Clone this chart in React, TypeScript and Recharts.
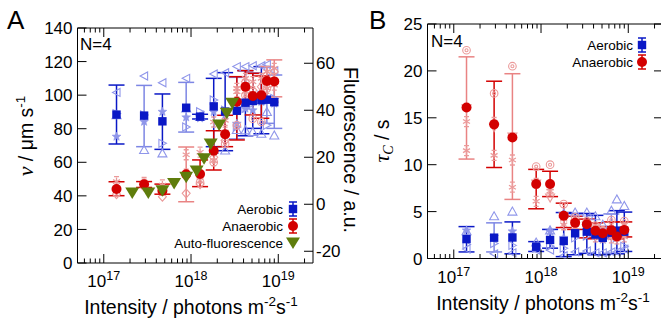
import React from 'react';
import { ComposedChart, Scatter, XAxis, YAxis, ErrorBar } from 'recharts';

// ---------------- data ----------------
const intensity = [1.4e17, 2.9e17, 4.7e17, 8.8e17, 1.27e18, 1.82e18, 2.46e18, 3.35e18, 4.2e18, 5.1e18, 6.4e18, 7.4e18, 9.0e18];

// Panel A: velocity (um/s)
const aeroV = [88.4, 87.8, 84.4, 92.5, 87.2, 93.3, 90.2, 90.7, 95.5, 96.5, 97.0, 97.3, 95.8];
const aeroVLo = [70.9, 69.3, 67.7, 78.0, 85.8, 69.3, 66.9, 73.9, 75.8, 80.2, 77.0, 83.2, 80.2];
const aeroVHi = [106.0, 105.8, 100.7, 107.6, 88.6, 110.0, 113.4, 110.6, 114.6, 113.0, 117.0, 117.0, 112.0];
const aeroVLight = [false, true, false, true, false, false, false, true, false, false, false, true, true];
const aeroVRep1 = [101.6, 111.4, 107.4, 110.0, 88.0, 112.6, 113.4, 117.0, 117.0, 117.5, 117.5, 118.2, 114.4];
const aeroVRep2 = [75.3, 84.2, 90.1, 86.8, 86.2, 90.0, 88.0, 83.0, 92.0, 91.0, 96.0, 97.0, 95.0];
const aeroVRep3 = [88.0, 67.3, 65.3, 92.0, 87.0, 67.3, 67.0, 79.2, 79.0, 78.0, 77.0, 90.0, 76.0];
const aeroVRep4 = [89.0, 88.2, 71.3, 81.0, 90.1, 97.1, 91.0, 81.0, 92.0, 95.0, 100.0, 82.0, 98.0];

const anaV = [44.1, 46.9, 43.1, 52.8, 53.0, 66.9, 76.7, 96.1, 105.0, 99.5, 99.9, 108.4, 108.2];
const anaVLo = [40.1, 45.0, 41.0, 36.5, 45.5, 55.4, 69.3, 73.3, 96.0, 88.2, 86.2, 99.0, 99.0];
const anaVHi = [48.4, 48.5, 47.0, 69.1, 61.4, 78.8, 88.0, 111.0, 114.6, 113.0, 111.4, 117.0, 121.0];
const anaVLight = [false, false, false, true, false, false, false, false, false, false, false, true, true];
const anaVRep1 = [48.5, 48.0, 46.5, 64.5, 66.0, 84.0, 85.0, 104.0, 110.0, 108.0, 110.0, 114.0, 116.0];
const anaVRep2 = [41.0, 45.5, 39.5, 41.5, 47.0, 63.0, 73.0, 96.0, 108.0, 103.0, 105.0, 112.0, 114.0];
const anaVRep3 = [44.0, 47.0, 43.0, 53.0, 48.0, 60.0, 71.0, 82.0, 100.0, 86.0, 84.0, 104.0, 96.0];
const anaVRep4 = [43.0, 47.0, 43.5, 53.0, 51.0, 61.0, 78.0, 102.0, 102.0, 101.0, 100.0, 104.0, 106.0];

// Panel A: auto-fluorescence (a.u.)
const fluoIntensity = [2.12e17, 3.24e17, 4.7e17, 6.4e17, 8.8e17, 1.16e18, 1.41e18, 1.68e18, 2.1e18, 2.57e18, 2.97e18];
const fluo = [4.8, 4.8, 5.7, 8.8, 11.5, 14.2, 19.4, 25.6, 33.7, 38.7, 43.0];

// Panel B: tau_C (s)
const aeroTau = [2.07, 2.22, 2.24, 1.26, 1.98, 1.87, 2.69, 2.86, 2.55, 2.2, 2.75, 2.97, 2.86];
const aeroTauLo = [0.7, 0.7, 0.5, 0.75, 1.1, 0.2, 0.4, 0.55, 0.4, 0.4, 0.55, 0.5, 0.75];
const aeroTauHi = [3.4, 3.8, 3.9, 1.8, 3.1, 4.9, 4.8, 4.8, 4.6, 3.4, 4.75, 5.1, 4.95];
const aeroTauLight = [false, true, false, false, false, false, false, false, false, false, true, false, false];
const aeroTauRep1 = [2.9, 4.5, 5.0, 1.7, 3.0, 4.8, 4.9, 4.9, 4.5, 3.6, 5.1, 6.3, 5.6];
const aeroTauRep2 = [3.0, 2.3, 2.9, 1.3, 2.9, 2.2, 2.9, 3.3, 2.4, 2.0, 2.4, 2.7, 2.8];
const aeroTauRep3 = [1.5, 1.6, 1.4, 1.1, 1.3, 1.1, 2.2, 2.4, 2.8, 2.4, 2.5, 2.2, 1.3];
const aeroTauRep4 = [1.0, 0.5, 0.6, 0.9, 0.9, 0.3, 0.7, 0.8, 0.6, 0.6, 0.7, 0.7, 1.0];

const anaTau = [16.1, 14.3, 12.9, 7.95, 7.95, 4.55, 3.8, 3.65, 2.95, 2.7, 3.0, 2.35, 3.05];
const anaTauLo = [10.6, 9.7, 6.3, 5.3, 6.6, 3.3, 3.1, 2.2, 2.1, 2.2, 2.2, 2.1, 2.3];
const anaTauHi = [21.5, 18.9, 19.7, 9.5, 9.3, 5.9, 4.5, 4.2, 3.8, 3.4, 3.9, 2.6, 3.9];
const anaTauLight = [true, false, true, false, false, false, false, false, false, false, false, false, false];
const anaTauRep1 = [22.2, 17.6, 20.5, 9.8, 10.0, 5.8, 4.4, 4.0, 3.5, 3.0, 4.1, 2.6, 4.0];
const anaTauRep2 = [14.6, 14.5, 10.5, 6.1, 7.5, 4.2, 3.3, 3.4, 2.3, 2.3, 2.2, 2.1, 2.3];
const anaTauRep3 = [11.5, 11.0, 7.6, 8.0, 7.2, 3.6, 3.8, 3.6, 3.0, 2.8, 3.0, 2.4, 3.2];
const anaTauRep4 = [16.0, 14.0, 13.0, 8.0, 6.5, 4.5, 3.7, 3.5, 3.2, 2.7, 2.6, 2.2, 2.7];

// axes
const xDomain = [5e16, 2.5e19];
const xDecades = [16, 17, 18, 19];
const xMultipliers = [1, 2, 3, 4, 5, 6, 7, 8, 9];
const vTicks = [0, 20, 40, 60, 80, 100, 120, 140];
const fluoTicks = [-20, 0, 20, 40, 60];
const tauTicks = [0, 5, 10, 15, 20, 25];

// ---------------- styling ----------------
const SANS = '"Liberation Sans", Arial, Helvetica, sans-serif';
const SERIF = '"Liberation Serif", "Times New Roman", serif';
const BLUE = '#0a18c6';
const BLUE_L = '#7d86e4';
const RED = '#d30000';
const RED_L = '#e98383';
const GREEN = '#5f7d0c';
const REP_BLUE = '#8f96ea';
const REP_RED = '#eb9a9a';
const TICK_FS = 17;
const TITLE_FS = 19.5;
const SUP_FS = 13.5;

const xTicks = xDecades
  .flatMap((d) => xMultipliers.map((m) => m * Math.pow(10, d)))
  .filter((v) => v >= xDomain[0] && v <= xDomain[1]);

const isMajor = (v: number) => Math.abs(Math.log10(v) - Math.round(Math.log10(v))) < 1e-6;

const rows = (xs: number[], ys: number[]) => xs.map((x, i) => ({ x, y: ys[i] }));
const errRows = (xs: number[], ys: number[], lo: number[], hi: number[], light: boolean[], want: boolean) =>
  xs
    .map((x, i) => ({ x, y: ys[i], err: [ys[i] - lo[i], hi[i] - ys[i]], light: light[i] }))
    .filter((d) => d.light === want);

// ---------------- shapes ----------------
const pts = (arr: number[][]) => arr.map((p) => p.join(',')).join(' ');

const Mark = (kind: string, color: string) => (props: any) => {
  const { cx, cy } = props;
  if (cx == null || cy == null) return <g />;
  const sw = 1.1;
  switch (kind) {
    case 'triLeft':
      return <polygon points={pts([[cx - 4, cy], [cx + 3.5, cy - 4], [cx + 3.5, cy + 4]])} fill="none" stroke={color} strokeWidth={sw} />;
    case 'triRight':
      return <polygon points={pts([[cx + 4, cy], [cx - 3.5, cy - 4], [cx - 3.5, cy + 4]])} fill="none" stroke={color} strokeWidth={sw} />;
    case 'triUp':
      return <polygon points={pts([[cx, cy - 4.5], [cx - 4.5, cy + 3.5], [cx + 4.5, cy + 3.5]])} fill="none" stroke={color} strokeWidth={sw} />;
    case 'triDown':
      return <polygon points={pts([[cx, cy + 4.5], [cx - 4.5, cy - 3.5], [cx + 4.5, cy - 3.5]])} fill="none" stroke={color} strokeWidth={sw} />;
    case 'diamond':
      return <polygon points={pts([[cx, cy - 4.5], [cx + 4, cy], [cx, cy + 4.5], [cx - 4, cy]])} fill="none" stroke={color} strokeWidth={sw} />;
    case 'circle':
      return (
        <g>
          <circle cx={cx} cy={cy} r={3.8} fill="none" stroke={color} strokeWidth={sw} />
          <circle cx={cx} cy={cy} r={1.5} fill="none" stroke={color} strokeWidth={sw} />
        </g>
      );
    case 'star': {
      const p: number[][] = [];
      for (let k = 0; k < 10; k++) {
        const r = k % 2 === 0 ? 4.6 : 2;
        const a = -Math.PI / 2 + (k * Math.PI) / 5;
        p.push([cx + r * Math.cos(a), cy + r * Math.sin(a)]);
      }
      return <polygon points={pts(p)} fill={color} stroke={color} strokeWidth={0.6} />;
    }
    case 'asterisk':
    default: {
      const r = 4;
      return (
        <g stroke={color} strokeWidth={1.3}>
          <line x1={cx} y1={cy - r} x2={cx} y2={cy + r} />
          <line x1={cx - r * 0.87} y1={cy - r / 2} x2={cx + r * 0.87} y2={cy + r / 2} />
          <line x1={cx - r * 0.87} y1={cy + r / 2} x2={cx + r * 0.87} y2={cy - r / 2} />
          <line x1={cx - 2.5} y1={cy - r - 1} x2={cx + 2.5} y2={cy - r - 1} />
          <line x1={cx - 2.5} y1={cy + r + 1} x2={cx + 2.5} y2={cy + r + 1} />
        </g>
      );
    }
  }
};

const SquareMark = (props: any) =>
  props.cx == null ? <g /> : <rect x={props.cx - 4.2} y={props.cy - 4.2} width={8.4} height={8.4} fill={BLUE} />;
const CircleMark = (props: any) =>
  props.cx == null ? <g /> : <circle cx={props.cx} cy={props.cy} r={5} fill={RED} />;
const GreenTri = (props: any) =>
  props.cx == null ? (
    <g />
  ) : (
    <polygon points={pts([[props.cx - 7, props.cy - 5.5], [props.cx + 7, props.cy - 5.5], [props.cx, props.cy + 6]])} fill={GREEN} />
  );
const NoMark = () => <g />;

// ---------------- ticks ----------------
const XTick = (side: 'bottom' | 'top') => (props: any) => {
  const { x, y, payload } = props;
  const v = payload.value;
  const major = isMajor(v);
  const len = major ? 9 : 4.5;
  const dir = side === 'bottom' ? -1 : 1;
  return (
    <g>
      <line x1={x} x2={x} y1={y} y2={y + dir * len} stroke="#000" strokeWidth={1} />
      {side === 'bottom' && major && (
        <text x={x} y={y + 24} textAnchor="middle" fontFamily={SANS} fontSize={TICK_FS} fill="#000">
          10
          <tspan dy={-7} fontSize={12.5}>
            {Math.round(Math.log10(v))}
          </tspan>
        </text>
      )}
    </g>
  );
};

const YTick = (side: 'left' | 'right', label: boolean) => (props: any) => {
  const { x, y, payload } = props;
  const dir = side === 'left' ? 1 : -1;
  return (
    <g>
      <line x1={x} x2={x + dir * 9} y1={y} y2={y} stroke="#000" strokeWidth={1} />
      {label && (
        <text
          x={side === 'left' ? x - 5 : x + 3}
          y={y}
          dy="0.36em"
          textAnchor={side === 'left' ? 'end' : 'start'}
          fontFamily={SANS}
          fontSize={TICK_FS}
          fill="#000"
        >
          {payload.value}
        </text>
      )}
    </g>
  );
};

const axisLine = { stroke: '#000', strokeWidth: 1 };

const commonX = {
  dataKey: 'x',
  type: 'number' as const,
  scale: 'log' as const,
  domain: xDomain,
  allowDataOverflow: true,
  ticks: xTicks,
  interval: 0 as const,
  tickLine: false,
  tickSize: 0,
  tickMargin: 0,
  height: 1,
  axisLine,
};

const yCommon = {
  dataKey: 'y',
  type: 'number' as const,
  allowDataOverflow: true,
  interval: 0 as const,
  tickLine: false,
  tickSize: 0,
  tickMargin: 0,
  width: 1,
  axisLine,
};

// ---------------- legend icon ----------------
const LegendIcon = ({ x, y, kind }: { x: number; y: number; kind: 'blue' | 'red' | 'green' }) => {
  if (kind === 'green') {
    return <polygon points={pts([[x - 7, y - 5.5], [x + 7, y - 5.5], [x, y + 6]])} fill={GREEN} />;
  }
  const c = kind === 'blue' ? BLUE : RED;
  return (
    <g>
      <line x1={x} x2={x} y1={y - 7} y2={y + 7} stroke={c} strokeWidth={1.5} />
      <line x1={x - 4} x2={x + 4} y1={y - 7} y2={y - 7} stroke={c} strokeWidth={1.5} />
      <line x1={x - 4} x2={x + 4} y1={y + 7} y2={y + 7} stroke={c} strokeWidth={1.5} />
      {kind === 'blue' ? <rect x={x - 4.2} y={y - 4.2} width={8.4} height={8.4} fill={c} /> : <circle cx={x} cy={y} r={5} fill={c} />}
    </g>
  );
};

const legendA = [
  { label: 'Aerobic', kind: 'blue' as const },
  { label: 'Anaerobic', kind: 'red' as const },
  { label: 'Auto-fluorescence', kind: 'green' as const },
];
const legendB = [
  { label: 'Aerobic', kind: 'blue' as const },
  { label: 'Anaerobic', kind: 'red' as const },
];

// ---------------- panels ----------------
function PanelA() {
  return (
    <ComposedChart width={365} height={322} margin={{ top: 27, right: 51, bottom: 58, left: 76.5 }}>
      <XAxis xAxisId="b" orientation="bottom" {...commonX} tick={XTick('bottom')} />
      <XAxis xAxisId="t" orientation="top" {...commonX} tick={XTick('top')} />
      <YAxis yAxisId="v" orientation="left" {...yCommon} domain={[0, 140]} ticks={vTicks} tick={YTick('left', true)} />
      <YAxis yAxisId="f" orientation="right" {...yCommon} domain={[-25, 75]} ticks={fluoTicks} tick={YTick('right', true)} />

      <Scatter xAxisId="t" yAxisId="f" data={rows(fluoIntensity, fluo)} shape={NoMark} isAnimationActive={false} />
      <Scatter xAxisId="b" yAxisId="v" data={rows(intensity, aeroVRep1)} shape={Mark('triLeft', REP_BLUE)} isAnimationActive={false} />
      <Scatter xAxisId="b" yAxisId="v" data={rows(intensity, aeroVRep2)} shape={Mark('star', REP_BLUE)} isAnimationActive={false} />
      <Scatter xAxisId="b" yAxisId="v" data={rows(intensity, aeroVRep3)} shape={Mark('triUp', REP_BLUE)} isAnimationActive={false} />
      <Scatter xAxisId="b" yAxisId="v" data={rows(intensity, aeroVRep4)} shape={Mark('triRight', REP_BLUE)} isAnimationActive={false} />
      <Scatter xAxisId="b" yAxisId="v" data={rows(intensity, anaVRep1)} shape={Mark('asterisk', REP_RED)} isAnimationActive={false} />
      <Scatter xAxisId="b" yAxisId="v" data={rows(intensity, anaVRep2)} shape={Mark('diamond', REP_RED)} isAnimationActive={false} />
      <Scatter xAxisId="b" yAxisId="v" data={rows(intensity, anaVRep3)} shape={Mark('circle', REP_RED)} isAnimationActive={false} />
      <Scatter xAxisId="b" yAxisId="v" data={rows(intensity, anaVRep4)} shape={Mark('asterisk', REP_RED)} isAnimationActive={false} />

      <Scatter xAxisId="b" yAxisId="v" data={errRows(intensity, aeroV, aeroVLo, aeroVHi, aeroVLight, true)} shape={NoMark} isAnimationActive={false}>
        <ErrorBar dataKey="err" direction="y" width={8} stroke={BLUE_L} strokeWidth={1.5} />
      </Scatter>
      <Scatter xAxisId="b" yAxisId="v" data={errRows(intensity, aeroV, aeroVLo, aeroVHi, aeroVLight, false)} shape={NoMark} isAnimationActive={false}>
        <ErrorBar dataKey="err" direction="y" width={8} stroke={BLUE} strokeWidth={1.5} />
      </Scatter>
      <Scatter xAxisId="b" yAxisId="v" data={errRows(intensity, anaV, anaVLo, anaVHi, anaVLight, true)} shape={NoMark} isAnimationActive={false}>
        <ErrorBar dataKey="err" direction="y" width={8} stroke={RED_L} strokeWidth={1.5} />
      </Scatter>
      <Scatter xAxisId="b" yAxisId="v" data={errRows(intensity, anaV, anaVLo, anaVHi, anaVLight, false)} shape={NoMark} isAnimationActive={false}>
        <ErrorBar dataKey="err" direction="y" width={8} stroke={RED} strokeWidth={1.5} />
      </Scatter>

      <Scatter xAxisId="b" yAxisId="v" data={rows(intensity, aeroV)} shape={SquareMark} isAnimationActive={false} />
      <Scatter xAxisId="b" yAxisId="v" data={rows(intensity, anaV)} shape={CircleMark} isAnimationActive={false} />
      <Scatter xAxisId="b" yAxisId="f" data={rows(fluoIntensity, fluo)} shape={GreenTri} isAnimationActive={false} />
    </ComposedChart>
  );
}

function PanelB() {
  return (
    <ComposedChart width={300} height={322} margin={{ top: 23, right: 1, bottom: 62.5, left: 61.5 }}>
      <XAxis xAxisId="b" orientation="bottom" {...commonX} tick={XTick('bottom')} />
      <XAxis xAxisId="t" orientation="top" {...commonX} tick={XTick('top')} />
      <YAxis yAxisId="l" orientation="left" {...yCommon} domain={[0, 25]} ticks={tauTicks} tick={YTick('left', true)} />
      <YAxis yAxisId="r" orientation="right" {...yCommon} domain={[0, 25]} ticks={tauTicks} tick={YTick('right', false)} />

      <Scatter xAxisId="t" yAxisId="r" data={rows(intensity, aeroTau)} shape={NoMark} isAnimationActive={false} />
      <Scatter xAxisId="b" yAxisId="l" data={rows(intensity, aeroTauRep1)} shape={Mark('triUp', REP_BLUE)} isAnimationActive={false} />
      <Scatter xAxisId="b" yAxisId="l" data={rows(intensity, aeroTauRep2)} shape={Mark('star', REP_BLUE)} isAnimationActive={false} />
      <Scatter xAxisId="b" yAxisId="l" data={rows(intensity, aeroTauRep3)} shape={Mark('triRight', REP_BLUE)} isAnimationActive={false} />
      <Scatter xAxisId="b" yAxisId="l" data={rows(intensity, aeroTauRep4)} shape={Mark('triLeft', REP_BLUE)} isAnimationActive={false} />
      <Scatter xAxisId="b" yAxisId="l" data={rows(intensity, anaTauRep1)} shape={Mark('circle', REP_RED)} isAnimationActive={false} />
      <Scatter xAxisId="b" yAxisId="l" data={rows(intensity, anaTauRep2)} shape={Mark('asterisk', REP_RED)} isAnimationActive={false} />
      <Scatter xAxisId="b" yAxisId="l" data={rows(intensity, anaTauRep3)} shape={Mark('asterisk', REP_RED)} isAnimationActive={false} />
      <Scatter xAxisId="b" yAxisId="l" data={rows(intensity, anaTauRep4)} shape={Mark('triDown', REP_RED)} isAnimationActive={false} />

      <Scatter xAxisId="b" yAxisId="l" data={errRows(intensity, aeroTau, aeroTauLo, aeroTauHi, aeroTauLight, true)} shape={NoMark} isAnimationActive={false}>
        <ErrorBar dataKey="err" direction="y" width={8} stroke={BLUE_L} strokeWidth={1.5} />
      </Scatter>
      <Scatter xAxisId="b" yAxisId="l" data={errRows(intensity, aeroTau, aeroTauLo, aeroTauHi, aeroTauLight, false)} shape={NoMark} isAnimationActive={false}>
        <ErrorBar dataKey="err" direction="y" width={8} stroke={BLUE} strokeWidth={1.5} />
      </Scatter>
      <Scatter xAxisId="b" yAxisId="l" data={errRows(intensity, anaTau, anaTauLo, anaTauHi, anaTauLight, true)} shape={NoMark} isAnimationActive={false}>
        <ErrorBar dataKey="err" direction="y" width={8} stroke={RED_L} strokeWidth={1.5} />
      </Scatter>
      <Scatter xAxisId="b" yAxisId="l" data={errRows(intensity, anaTau, anaTauLo, anaTauHi, anaTauLight, false)} shape={NoMark} isAnimationActive={false}>
        <ErrorBar dataKey="err" direction="y" width={8} stroke={RED} strokeWidth={1.5} />
      </Scatter>

      <Scatter xAxisId="b" yAxisId="l" data={rows(intensity, aeroTau)} shape={SquareMark} isAnimationActive={false} />
      <Scatter xAxisId="b" yAxisId="l" data={rows(intensity, anaTau)} shape={CircleMark} isAnimationActive={false} />
    </ComposedChart>
  );
}

const XTitle = ({ x, y }: { x: number; y: number }) => (
  <text x={x} y={y} fontSize={TITLE_FS} textAnchor="middle">
    Intensity / photons m<tspan dy={-8} fontSize={SUP_FS}>-2</tspan>
    <tspan dy={8}>s</tspan>
    <tspan dy={-8} fontSize={SUP_FS}>-1</tspan>
  </text>
);

function Overlay() {
  return (
    <svg width={661} height={322} style={{ position: 'absolute', left: 0, top: 0, pointerEvents: 'none' }}>
      <g fontFamily={SANS} fill="#000">
        <text x={7} y={29} fontSize={26}>A</text>
        <text x={369} y={29} fontSize={26}>B</text>
        <text x={80} y={50} fontSize={17}>N=4</text>
        <text x={431} y={47} fontSize={17}>N=4</text>

        <XTitle x={191} y={314} />
        <XTitle x={543} y={310} />

        <text transform="translate(33,136) rotate(-90)" fontSize={TITLE_FS} textAnchor="middle">
          <tspan fontFamily={SERIF} fontStyle="italic" fontSize={22}>ν</tspan> / μm s<tspan dy={-8} fontSize={SUP_FS}>-1</tspan>
        </text>
        <text transform="translate(344,150) rotate(90)" fontSize={TITLE_FS} textAnchor="middle">
          Fluorescence / a.u.
        </text>
        <text transform="translate(389,141) rotate(-90)" fontSize={TITLE_FS} textAnchor="middle">
          <tspan fontFamily={SERIF} fontStyle="italic" fontSize={22}>τ</tspan>
          <tspan fontFamily={SERIF} fontStyle="italic" fontSize={14} dy={4}>C</tspan>
          <tspan dy={-4}> / s</tspan>
        </text>

        {legendA.map((e, i) => (
          <g key={e.label}>
            <text x={283} y={209 + i * 17} dy="0.36em" fontSize={13.5} textAnchor="end">{e.label}</text>
            <LegendIcon x={293} y={209 + i * 17} kind={e.kind} />
          </g>
        ))}
        {legendB.map((e, i) => (
          <g key={e.label}>
            <text x={633} y={45 + i * 17} dy="0.36em" fontSize={13.5} textAnchor="end">{e.label}</text>
            <LegendIcon x={642} y={45 + i * 17} kind={e.kind} />
          </g>
        ))}
      </g>
    </svg>
  );
}

export default function App() {
  return (
    <div style={{ position: 'absolute', left: 0, top: 0, width: 661, height: 322, overflow: 'hidden', background: '#fff' }}>
      <div style={{ position: 'absolute', left: 0, top: 0 }}>
        <PanelA />
      </div>
      <div style={{ position: 'absolute', left: 365, top: 0 }}>
        <PanelB />
      </div>
      <Overlay />
    </div>
  );
}
